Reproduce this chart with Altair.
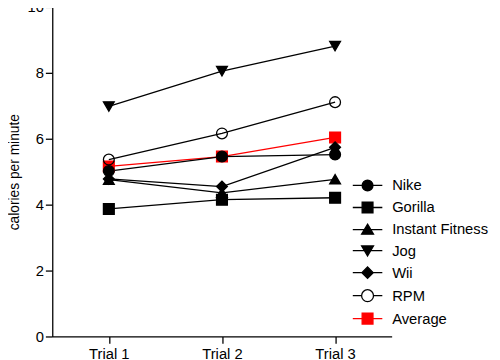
import altair as alt
import pandas as pd

trials = ["Trial 1", "Trial 2", "Trial 3"]
series = ["Nike", "Gorilla", "Instant Fitness", "Jog", "Wii", "RPM", "Average"]
nike = [5.02, 5.46, 5.52]
gorilla = [3.87, 4.15, 4.21]
instant = [4.76, 4.36, 4.77]
jog = [6.98, 8.05, 8.81]
wii = [4.78, 4.55, 5.74]
rpm = [5.37, 6.16, 7.11]
average = [5.16, 5.46, 6.04]

values = [nike, gorilla, instant, jog, wii, rpm, average]
# draw Average first so the black markers sit on top of it
draw_order = ["Average", "Nike", "Gorilla", "Instant Fitness", "Jog", "Wii", "RPM"]
rows = []
for name in draw_order:
    vals = values[series.index(name)]
    for t, v in zip(trials, vals):
        rows.append({"series": name, "trial": t, "value": v})
df = pd.DataFrame(rows)

stroke_range = ["black", "black", "black", "black", "black", "black", "red"]
fill_range = ["black", "black", "black", "black", "black", "transparent", "red"]
shape_range = ["circle", "square", "triangle-up", "triangle-down", "diamond", "circle", "square"]

# legend glyphs: a short line with the marker on it (unit = marker half-size)
legend_paths = [
    "M-2.73,0H2.73M1,0A1,1,0,1,1,-1,0A1,1,0,1,1,1,0Z",
    "M-2.73,0H2.73M-1,-1H1V1H-1Z",
    "M-2.73,0H2.73M0,-1L1.1,0.85L-1.1,0.85Z",
    "M-2.73,0H2.73M0,1L1.1,-0.85L-1.1,-0.85Z",
    "M-2.73,0H2.73M-1.05,0L0,-1.05L1.05,0L0,1.05Z",
    "M-2.73,0H-1.1M1.1,0H2.73M1.1,0A1.1,1.1,0,1,1,-1.1,0A1.1,1.1,0,1,1,1.1,0Z",
    "M-2.73,0H2.73M-1,-1H1V1H-1Z",
]

font = "Liberation Sans"

x = alt.X("trial:O", scale=alt.Scale(type="point", padding=0.5, domain=trials),
          axis=alt.Axis(title=None, labelAngle=0, labelFontSize=15, labelPadding=3))
y = alt.Y("value:Q", scale=alt.Scale(domain=[0, 10], nice=False),
          axis=alt.Axis(title="calories per minute", values=[0, 2, 4, 6, 8, 10],
                        labelFontSize=15, titleFontSize=14, titleFontWeight="normal",
                        labelPadding=2, titlePadding=6))

lines = alt.Chart(df).mark_line(strokeWidth=1.3).encode(
    x=x, y=y,
    color=alt.Color("series:N", scale=alt.Scale(domain=series, range=stroke_range), legend=None),
    detail="series:N",
)

points = alt.Chart(df).mark_point(size=121, strokeWidth=1.3, opacity=1, fillOpacity=1).encode(
    x=x, y=y,
    shape=alt.Shape("series:N", scale=alt.Scale(domain=series, range=shape_range), legend=None),
    stroke=alt.Stroke("series:N", scale=alt.Scale(domain=series, range=stroke_range), legend=None),
    fill=alt.Fill("series:N", scale=alt.Scale(domain=series, range=fill_range), legend=None),
)

legend = alt.Legend(
    title=None, orient="none", legendX=313, legendY=174,
    labelFontSize=15, labelFont=font, labelColor="black", labelOffset=17.5,
    symbolSize=121, symbolStrokeWidth=1.3, rowPadding=5.4, symbolOpacity=1,
)

legend_layer = alt.Chart(df).mark_point(opacity=0).encode(
    x=x, y=y,
    shape=alt.Shape("series:N", scale=alt.Scale(domain=series, range=legend_paths), legend=legend),
    stroke=alt.Stroke("series:N", scale=alt.Scale(domain=series, range=stroke_range), legend=legend),
    fill=alt.Fill("series:N", scale=alt.Scale(domain=series, range=fill_range), legend=legend),
)

chart = alt.layer(lines, points, legend_layer).resolve_scale(
    color="independent", shape="independent", stroke="independent", fill="independent"
).properties(
    width=345, height=335, background="white",
    autosize=alt.AutoSizeParams(type="none"),
    padding={"left": 45, "top": -4, "right": 102, "bottom": 21},
).configure_view(stroke=None).configure_axis(
    grid=False, domainColor="black", domainWidth=1.3, tickColor="black", tickWidth=1.3,
    tickSize=7, labelColor="black", titleColor="black", labelFont=font, titleFont=font,
)

chart.save("out.html", embed_options={"renderer": "svg", "actions": False})
